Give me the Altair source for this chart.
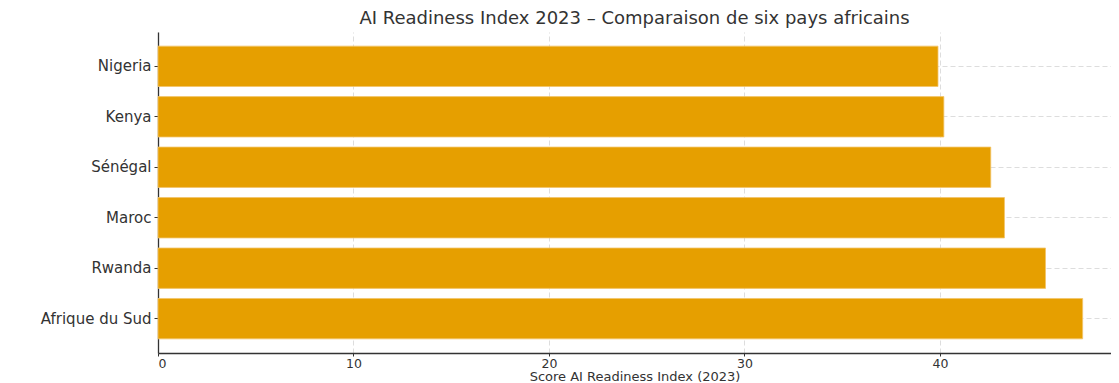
import altair as alt
import pandas as pd

countries = ["Nigeria", "Kenya", "Sénégal", "Maroc", "Rwanda", "Afrique du Sud"]
scores = [39.9, 40.2, 42.6, 43.3, 45.4, 47.3]
x_ticks = [0, 10, 20, 30, 40]

df = pd.DataFrame({"Pays": countries, "Score": scores})

FONT = "DejaVu Sans"
TXT = "#333333"

chart = (
    alt.Chart(df)
    .mark_bar(color="#E69F00", stroke="#F2C46A", strokeWidth=0.8)
    .encode(
        x=alt.X(
            "Score:Q",
            scale=alt.Scale(domain=[0, 48.75], nice=False, zero=True),
            axis=alt.Axis(
                values=x_ticks,
                format="d",
                title="Score AI Readiness Index (2023)",
                labelFontSize=12.5,
                tickSize=3,
                labelPadding=1,
                titleFontSize=13,
                titleBaseline="bottom",
                titleY=30,
            ),
        ),
        y=alt.Y(
            "Pays:N",
            sort=countries,
            scale=alt.Scale(paddingInner=0.2, paddingOuter=0.28),
            axis=alt.Axis(title=None, bandPosition=0.5, labelPadding=3, labelFontSize=15),
        ),
        tooltip=["Pays", "Score"],
    )
    .properties(
        width=953,
        height=321,
        background="white",
        title=alt.TitleParams(
            "AI Readiness Index 2023 – Comparaison de six pays africains",
            fontSize=18,
            font=FONT,
            fontWeight="normal",
            color=TXT,
            anchor="middle",
            offset=4,
        ),
        autosize=alt.AutoSizeParams(type="none"),
        padding={"left": 150, "top": 24, "right": 0, "bottom": 30},
    )
    .configure_view(stroke=None)
    .configure_axis(
        labelFont=FONT,
        titleFont=FONT,
        titleFontWeight="normal",
        labelColor=TXT,
        titleColor=TXT,
        domainColor="#333333",
        domainWidth=1.3,
        tickColor="#333333",
        tickSize=4,
        tickWidth=1,
        grid=True,
        gridColor="#b8b8b8",
        gridDash=[5, 3],
        gridWidth=0.8,
        gridOpacity=0.6,
        zindex=1,
    )
)

chart.save("out.html", embed_options={"renderer": "svg", "actions": False})
